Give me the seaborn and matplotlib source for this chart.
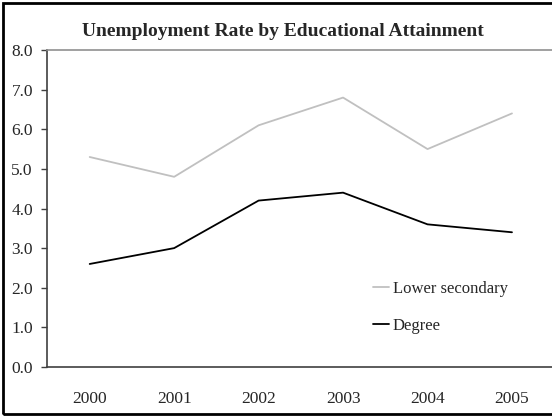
import matplotlib
matplotlib.use("Agg")
import matplotlib.pyplot as plt
import seaborn as sns
import pandas as pd
from matplotlib.patches import Rectangle
from matplotlib.ticker import FixedLocator, FormatStrFormatter

years = ["2000", "2001", "2002", "2003", "2004", "2005"]
lower_secondary = [5.3, 4.8, 6.1, 6.8, 5.5, 6.4]
degree = [2.6, 3.0, 4.2, 4.4, 3.6, 3.4]
series_names = ["Lower secondary", "Degree"]
colors = {"Lower secondary": "#C0C0C0", "Degree": "#000000"}

df = pd.DataFrame({
    "Year": years * 2,
    "Rate": lower_secondary + degree,
    "Series": [series_names[0]] * len(years) + [series_names[1]] * len(years),
})

sns.set_style("white")
plt.rcParams["font.family"] = ["Liberation Serif", "DejaVu Serif"]

fig = plt.figure(figsize=(5.52, 4.17), dpi=100)
ax = fig.add_axes([0.086, 0.12, 0.918, 0.76])

sns.lineplot(data=df, x="Year", y="Rate", hue="Series", hue_order=series_names,
             palette=colors, linewidth=1.3, ax=ax, sort=False)

ax.set_xlim(-0.5, 5.5)
ax.set_ylim(0, 8)
ax.set_yticks(range(0, 9))
ax.yaxis.set_major_formatter(FormatStrFormatter("%.1f"))
ax.set_xlabel("")
ax.set_ylabel("")

ax.tick_params(axis="x", which="major", length=0, pad=17, labelsize=12.5)
ax.xaxis.set_minor_locator(FixedLocator([i - 0.5 for i in range(len(years) + 1)]))
ax.tick_params(axis="x", which="minor", direction="in", length=5, width=1, color="#404040")
ax.tick_params(axis="y", direction="out", length=4, width=1, color="#404040", labelsize=12.5, pad=6.5, left=True)

for side in ["left", "bottom"]:
    ax.spines[side].set_color("#404040")
    ax.spines[side].set_linewidth(1.2)
ax.spines["top"].set_color("#909090")
ax.spines["top"].set_linewidth(1.2)
ax.spines["right"].set_visible(False)

fig.text(0.513, 0.924, "Unemployment Rate by Educational Attainment", fontsize=14,
         fontweight="bold", ha="center", va="center")

leg = ax.legend(loc="upper left", bbox_to_anchor=(0.625, 0.298), frameon=False, fontsize=12,
                handlelength=0.96, handletextpad=0.24, labelspacing=1.28, borderpad=0)

fig.patches.append(Rectangle((0.005, 0.008), 1.2, 0.985, transform=fig.transFigure,
                             fill=False, edgecolor="black", linewidth=2, zorder=10))

fig.savefig("out.png", dpi=100)
